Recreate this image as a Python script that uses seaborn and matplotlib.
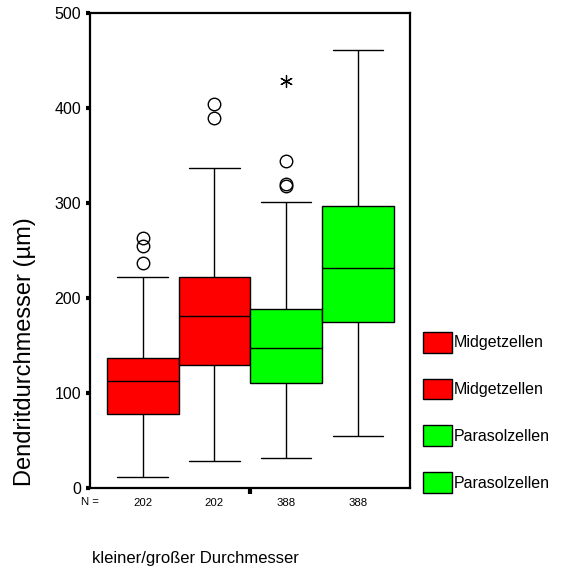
import numpy as np
import pandas as pd
import seaborn as sns
import matplotlib.pyplot as plt
from matplotlib.patches import Patch

# Boxplot Dendritdurchmesser - Midget- und Parasolzellen (klein/gross)
groups = ['Midget klein', 'Midget gross', 'Parasol klein', 'Parasol gross']
legend_labels = ['Midgetzellen', 'Midgetzellen', 'Parasolzellen', 'Parasolzellen']
n_labels = ['202', '202', '388', '388']
colors = ['#ff0000', '#ff0000', '#00ff00', '#00ff00']

# five number summaries
whisker_low = [12, 28.5, 32, 55]
q1 = [78, 130, 111, 174.5]
median = [112.5, 181.5, 147, 232]
q3 = [137, 222, 188.5, 297]
whisker_high = [222, 337, 301, 461]
outliers = [[237, 254.5, 263], [389.5, 404], [318, 320, 344.5], []]
extremes = [[], [], [428], []]


def box_sample(lo, a, m, b, hi, out, k=4):
    # 4k+1 values, quartiles land exactly on a, m, b
    upper = [hi] + list(out)
    upper += [hi] * (k - len(upper))
    return [lo] * k + [a] * k + [m] * k + [b] + upper


rows = []
for i, g in enumerate(groups):
    vals = box_sample(whisker_low[i], q1[i], median[i], q3[i], whisker_high[i], outliers[i])
    for v in vals:
        rows.append({'gruppe': g, 'wert': v})
df = pd.DataFrame(rows)

sns.set_style('white')
plt.rcParams['font.family'] = ['Liberation Sans', 'DejaVu Sans']
plt.rcParams['text.color'] = 'black'
plt.rcParams['xtick.color'] = 'black'
plt.rcParams['ytick.color'] = 'black'

fig = plt.figure(figsize=(5.73, 5.70), dpi=100)
ax = fig.add_axes([90 / 573, 1 - 488 / 570, 320 / 573, 475 / 570])

sns.boxplot(data=df, x='gruppe', y='wert', hue='gruppe', order=groups, hue_order=groups,
            palette=colors, width=1.0, linewidth=1.0, linecolor='black', legend=False,
            saturation=1, capwidths=0.7, ax=ax,
            flierprops={'marker': 'o', 'markersize': 9, 'markerfacecolor': 'none',
                        'markeredgecolor': 'black', 'markeredgewidth': 1.0})

# extreme values (star)
ex_x = [i for i in range(len(groups)) for _ in extremes[i]]
ex_y = [v for i in range(len(groups)) for v in extremes[i]]
sns.scatterplot(x=ex_x, y=ex_y, marker=(6, 2, 0), s=75, color='black', linewidth=0.9, ax=ax)

ax.set_xlim(-0.733, 3.724)
ax.set_ylim(0, 500)
ax.set_yticks([0, 100, 200, 300, 400, 500])
ax.tick_params(axis='y', left=True, direction='out', length=3, width=3, pad=3.5,
               labelsize=11.5, color='black', labelcolor='black')

ax.set_xticks([1.5])
ax.set_xticklabels([''])
ax.tick_params(axis='x', which='major', bottom=True, direction='out', length=4, width=3, color='black')
ax.set_xticks(range(len(groups)), minor=True)
ax.set_xticklabels(n_labels, minor=True)
ax.tick_params(axis='x', which='minor', bottom=True, length=0, pad=7, labelsize=8.2, labelcolor='black')

ax.set_xlabel('')
ax.set_ylabel('')
for s in ax.spines.values():
    s.set_visible(True)
    s.set_color('black')
    s.set_linewidth(1.6)

fig.text(81 / 573, 1 - 502 / 570, 'N =', fontsize=8.2, ha='left', va='center')
fig.text(25 / 573, 1 - 352 / 570, 'Dendritdurchmesser (µm)', fontsize=17, rotation=90,
         ha='center', va='center')
fig.text(92 / 573, 1 - 558 / 570, 'kleiner/großer Durchmesser', fontsize=12, ha='left', va='center')

handles = [Patch(facecolor=c, edgecolor='black', linewidth=1.0) for c in colors]
fig.legend(handles, legend_labels, loc='upper left', bbox_to_anchor=(423 / 573, 1 - 332 / 570),
           frameon=False, fontsize=11.5, handlelength=1.8, handleheight=1.6,
           handletextpad=0.1, labelspacing=1.64, borderpad=0, borderaxespad=0)

fig.savefig('out.png', dpi=100)
